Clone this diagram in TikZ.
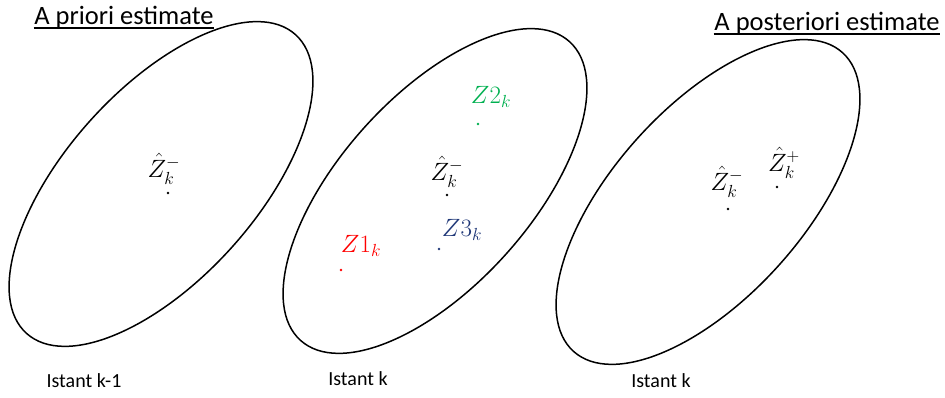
\RequirePackage{fix-cm}
\documentclass[tikz,border=0pt]{standalone}
\usepackage{amsmath}
\usepackage{fontspec}
\setmainfont{Carlito}
\definecolor{zred}{RGB}{255,0,0}
\definecolor{zgreen}{RGB}{0,176,80}
\definecolor{zblue}{RGB}{32,56,120}

\begin{document}
\begin{tikzpicture}[x=1pt,y=1pt,line width=1.5pt,
  estim/.style={inner sep=0pt,font=\fontsize{25}{30}\selectfont},
  heading/.style={anchor=base,inner sep=0pt,font=\fontsize{26.5}{30}\selectfont},
  instant/.style={anchor=base,inner sep=0pt,font=\fontsize{20}{24}\selectfont}]
\useasboundingbox (0,0) rectangle (945,398);
% three covariance ellipses, same size and tilt
\foreach \cx/\cy in {161/214,435/207,708/196}{
  \draw[rotate around={48:(\cx,\cy)}] (\cx,\cy) ellipse [x radius=201pt, y radius=95pt];
}
% ---- headings ----
\node[heading] (prior) at (124,373) {A priori estimate};
\draw[line width=1.6pt] ([yshift=-3pt]prior.base west) -- ([yshift=-3pt]prior.base east);
\node[heading] (post) at (827,367) {A posteriori estimate};
\draw[line width=1.6pt] ([yshift=-3pt]post.base west) -- ([yshift=-3pt]post.base east);
% ---- instant k-1 ----
\node[estim] (zprev) at (164,229) {$\hat{Z}_k^-$};
\fill (168,205) circle (1.3pt);
\node[instant] (tprev) at (84,10) {Istant k-1};
% ---- instant k, measurements ----
\node[estim] (zmid) at (447,226) {$\hat{Z}_k^-$};
\fill (447,203) circle (1.3pt);
\node[estim,text=zgreen] (ztwo) at (491,301) {$Z2_k$};
\fill[zgreen] (478,274) circle (1.3pt);
\node[estim,text=zblue] (zthree) at (462,168) {$Z3_k$};
\fill[zblue] (439,149) circle (1.3pt);
\node[estim,text=zred] (zone) at (361,152) {$Z1_k$};
\fill[zred] (341,128) circle (1.3pt);
\node[instant] (tmid) at (358,12) {Istant k};
% ---- instant k, update ----
\node[estim] (zminus) at (727,216) {$\hat{Z}_k^-$};
\fill (728,189) circle (1.3pt);
\node[estim] (zplus) at (784,235) {$\hat{Z}_k^+$};
\fill (777,211) circle (1.3pt);
\node[instant] (tpost) at (661,10) {Istant k};
\end{tikzpicture}
\end{document}
